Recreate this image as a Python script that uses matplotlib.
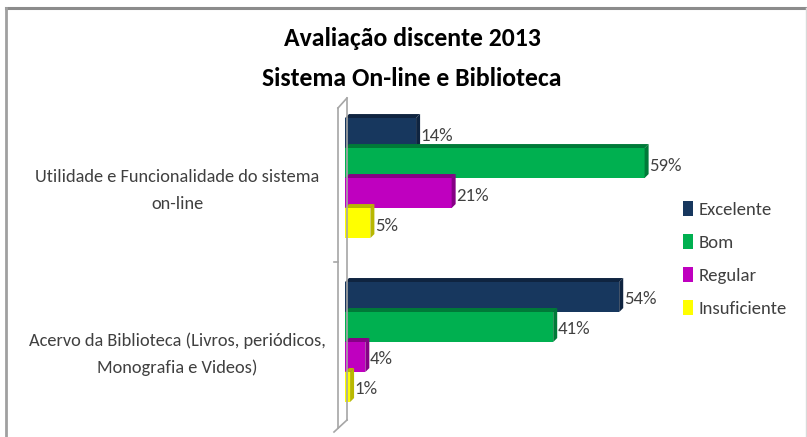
import matplotlib
matplotlib.use("Agg")
import matplotlib.pyplot as plt
from matplotlib import font_manager
from matplotlib.patches import Polygon, Patch
from matplotlib.lines import Line2D
import matplotlib.transforms as mtransforms

names = {f.name for f in font_manager.fontManager.ttflist}
FONT = 'Carlito' if 'Carlito' in names else 'Liberation Sans'
plt.rcParams['font.family'] = [FONT, 'DejaVu Sans']

categories = ["Utilidade e Funcionalidade do sistema\non-line",
              "Acervo da Biblioteca (Livros, periódicos,\nMonografia e Videos)"]
series = ["Excelente", "Bom", "Regular", "Insuficiente"]
excelente = [14, 54]
bom = [59, 41]
regular = [21, 4]
insuficiente = [5, 1]
values = [excelente, bom, regular, insuficiente]
colors = ['#17375E', '#00B050', '#BF00BF', '#FFFF00']
dark = ['#0F2440', '#007A38', '#860086', '#B8B800']

W, H = 807, 437
fig = plt.figure(figsize=(W / 100, H / 100), dpi=100)
ax_left, ax_right = 345, 670
ax_top, ax_bot = 100, 425
ax = fig.add_axes([ax_left / W, 1 - ax_bot / H, (ax_right - ax_left) / W, (ax_bot - ax_top) / H])
xmax = 64
ax.set_xlim(0, xmax)
ymin_u, ymax_u = -0.476, 1.506
ax.set_ylim(ymax_u, ymin_u)
ax.axis('off')

px_x = (ax_right - ax_left) / xmax
px_y = (ax_bot - ax_top) / (ymax_u - ymin_u)
dx = 4 / px_x
dy = 4 / px_y
h = 30 / px_y

for s, (vals, c, dc) in enumerate(zip(values, colors, dark)):
    for i, v in enumerate(vals):
        yc = i + (s - 1.5) * h
        ax.barh(yc, v, height=h, color=c, edgecolor='none', zorder=3 + s)
        top = yc - h / 2
        bottom = yc + h / 2
        # top face
        ax.add_patch(Polygon([(0, top), (v, top), (v + dx, top - dy), (dx, top - dy)],
                             closed=True, facecolor=dc, edgecolor='none', zorder=2 + s))
        # right face
        ax.add_patch(Polygon([(v, top), (v + dx, top - dy), (v + dx, bottom - dy), (v, bottom)],
                             closed=True, facecolor=dc, edgecolor='none', zorder=3 + s))
        ax.text(v + dx + 0.1, yc + 0.015, f"{v}%", ha='left', va='center',
                fontsize=13.5, color='#404040', zorder=10)

# category labels
tr = mtransforms.blended_transform_factory(fig.transFigure, ax.transData)
for i, cat in enumerate(categories):
    ax.text(177 / W, i + 0.075, cat, transform=tr, ha='center', va='center',
            fontsize=13.2, color='#404040', linespacing=1.8)

# 3D wall
wall_c = '#A6A6A6'
fx = lambda x: x / W
fy = lambda y: 1 - y / H
fig.add_artist(Line2D([fx(338), fx(338)], [fy(108), fy(428)], color=wall_c, lw=1.2))
fig.add_artist(Line2D([fx(347), fx(347)], [fy(98), fy(420)], color=wall_c, lw=1.2))
fig.add_artist(Line2D([fx(338), fx(347)], [fy(108), fy(98)], color=wall_c, lw=1.2))
fig.add_artist(Line2D([fx(334), fx(347)], [fy(432), fy(420)], color=wall_c, lw=1.2))
fig.add_artist(Line2D([fx(334), fx(338)], [fy(262), fy(262)], color=wall_c, lw=1.2))

# title
fig.text(412 / W, 1 - 38 / H, "Avaliação discente 2013", ha='center', va='center',
         fontsize=18.5, fontweight='bold', color='#000000')
fig.text(412 / W, 1 - 78 / H, "Sistema On-line e Biblioteca", ha='center', va='center',
         fontsize=18.5, fontweight='bold', color='#000000')

# legend
handles = [Patch(facecolor=c, edgecolor='none') for c in colors]
fig.legend(handles, series, loc='upper left', bbox_to_anchor=(674 / W, 1 - 192 / H),
           frameon=False, fontsize=13.5, handlelength=0.5, handleheight=0.85,
           handletextpad=0.3, labelspacing=0.85, borderpad=0, labelcolor='#404040')

# outer border
fig.add_artist(Line2D([fx(6), fx(806)], [fy(8), fy(8)], color='#8C8C8C', lw=2.2))
fig.add_artist(Line2D([fx(6.5), fx(6.5)], [fy(8), 0], color='#A0A0A0', lw=2.0))
fig.add_artist(Line2D([fx(805.5), fx(805.5)], [fy(8), 0], color='#D9D9D9', lw=1.0))

fig.savefig('out.png', dpi=100)
